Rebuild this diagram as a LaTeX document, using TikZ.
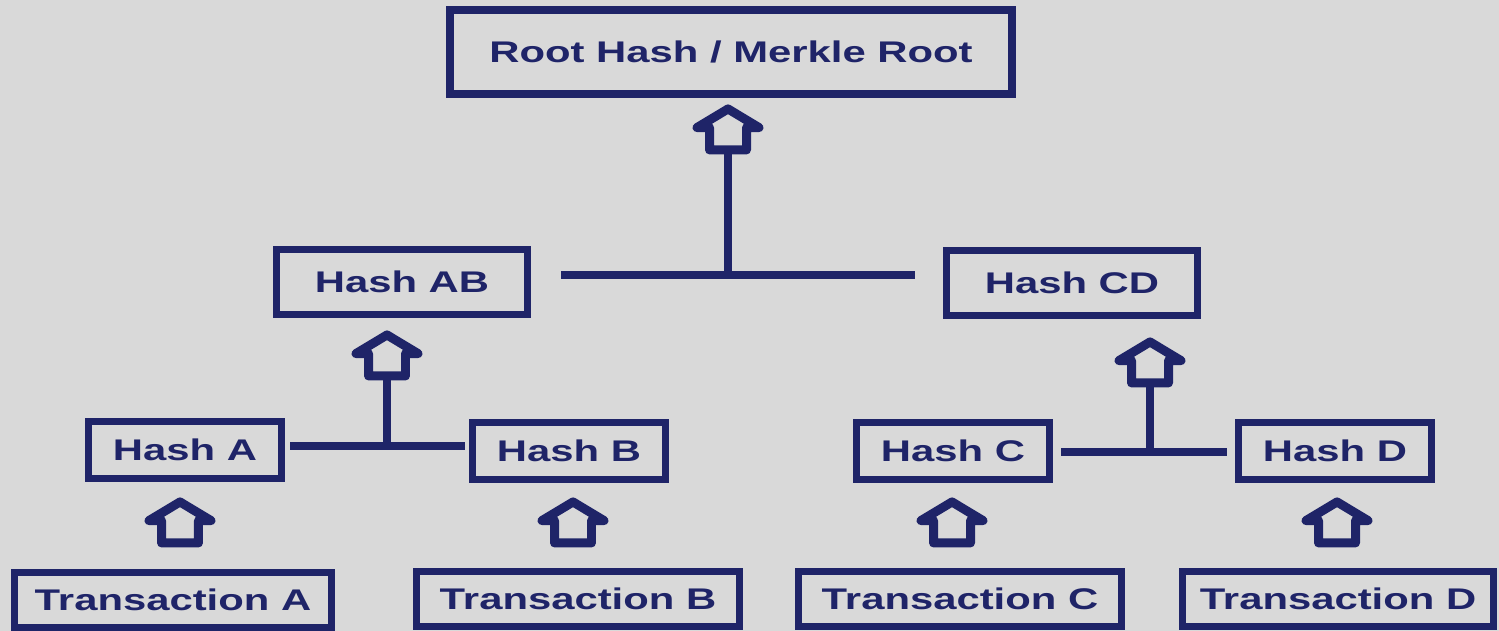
\documentclass[tikz,border=0pt]{standalone}
\usepackage{fontspec}
\setmainfont{Liberation Sans}[FakeStretch=1.4]
\usetikzlibrary{shapes.arrows}
\definecolor{NavyBlue}{HTML}{1F2468}
\definecolor{PaleGray}{HTML}{D9D9D9}
\tikzstyle{hashBox}=[draw=NavyBlue, line width=0.14cm, text=NavyBlue, font=\fontsize{17}{20}\selectfont\bfseries, inner sep=0pt, minimum width=3.88cm, minimum height=1.16cm]
\tikzstyle{txBox}=[hashBox, minimum height=1.1cm]
\tikzstyle{upArrow}=[draw=NavyBlue, line width=0.18cm, line join=round, single arrow, shape border rotate=90, single arrow tip angle=118, inner xsep=0.28cm, inner ysep=0pt, minimum width=1.12cm, minimum height=0.82cm]
\tikzstyle{hashLink}=[NavyBlue, line width=0.17cm]

\begin{document}
\begin{tikzpicture}[x=0.02cm, y=-0.02cm]
    \useasboundingbox (0,0) rectangle (1499,631);
    \fill[PaleGray] (0,0) rectangle (1499,631);

    % Root of the tree
    \node[hashBox, line width=0.16cm, minimum width=11.24cm, minimum height=1.68cm] (root) at (731,52) {Root Hash / Merkle Root};
    \node[upArrow] (upRoot) at (728,135) {};

    % Second level
    \node[hashBox, minimum width=5.04cm, minimum height=1.32cm] (hashAB) at (402,282) {Hash AB};
    \node[hashBox, minimum width=5.04cm, minimum height=1.32cm] (hashCD) at (1072,283) {Hash CD};
    \coordinate (jRoot) at (728,275);
    \draw[hashLink, shorten <=0.6cm, shorten >=0.56cm] (hashAB.east |- jRoot) -- (hashCD.west |- jRoot);
    \draw[hashLink] (jRoot) -- (upRoot.south);
    \node[upArrow] (upAB) at (387,361) {};
    \node[upArrow] (upCD) at (1150,368) {};

    % Leaf hashes
    \node[hashBox] (hashA) at (185,450) {Hash A};
    \node[hashBox] (hashB) at (569,451) {Hash B};
    \node[hashBox] (hashC) at (953,451) {Hash C};
    \node[hashBox] (hashD) at (1335,451) {Hash D};
    \coordinate (jAB) at (387,446);
    \coordinate (jCD) at (1150,452);
    \draw[hashLink, shorten <=0.1cm, shorten >=0.08cm] (hashA.east |- jAB) -- (hashB.west |- jAB);
    \draw[hashLink] (jAB) -- (upAB.south);
    \draw[hashLink, shorten <=0.16cm, shorten >=0.16cm] (hashC.east |- jCD) -- (hashD.west |- jCD);
    \draw[hashLink] (jCD) -- (upCD.south);

    % Transactions
    \node[upArrow] (upA) at (180,528) {};
    \node[upArrow] (upB) at (573,528) {};
    \node[upArrow] (upC) at (952,528) {};
    \node[upArrow] (upD) at (1337,528) {};
    \node[txBox, minimum width=6.34cm] (txA) at (173,600) {Transaction A};
    \node[txBox, minimum width=6.46cm] (txB) at (578,599) {Transaction B};
    \node[txBox, minimum width=6.48cm] (txC) at (960,599) {Transaction C};
    \node[txBox, minimum width=6.22cm] (txD) at (1338,599) {Transaction D};

\end{tikzpicture}
\end{document}
